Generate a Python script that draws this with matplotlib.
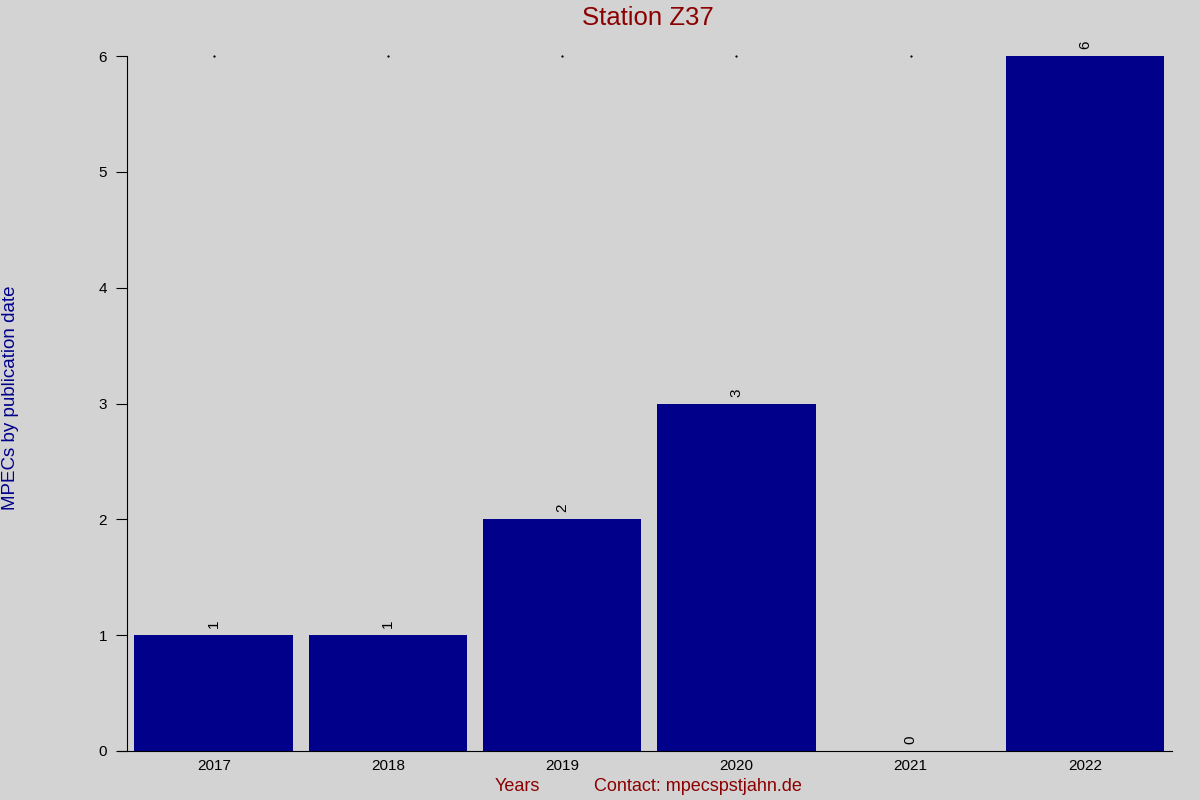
import matplotlib
matplotlib.use("Agg")
import matplotlib.pyplot as plt

years = ["2017", "2018", "2019", "2020", "2021", "2022"]
counts = [1, 1, 2, 3, 0, 6]
ymax = 6

plt.rcParams['font.family'] = ['Liberation Sans', 'DejaVu Sans']

fig = plt.figure(figsize=(12, 8), dpi=100, facecolor='#d3d3d3')
ax = fig.add_axes([0.1055, 0.06125, 0.8712, 0.86875])
ax.set_facecolor('#d3d3d3')

x = list(range(len(years)))
# tiny dots at top of each category, only where no bar reaches the top
dot_x = [xi for xi, c in zip(x, counts) if c < ymax]
ax.plot(dot_x, [ymax] * len(dot_x), linestyle='none', marker='s', markersize=0.6,
        color='black', clip_on=False, zorder=1)
bars = ax.bar(x, counts, width=0.91, color='#00008b', zorder=2)
for xi, c in zip(x, counts):
    ax.text(xi, c + 0.06, str(c), rotation=90, ha='center', va='bottom', fontsize=11, zorder=3)

ax.set_xlim(-0.5, len(years) - 0.5)
ax.set_ylim(0, ymax)
ax.set_xticks(x)
ax.set_xticklabels(years, fontsize=11)
ax.tick_params(axis='x', length=0, pad=6)
ax.tick_params(axis='y', length=8, labelsize=11, pad=6)
ax.spines['top'].set_visible(False)
ax.spines['right'].set_visible(False)
ax.spines['bottom'].set_bounds(-0.55, len(years) - 0.5)

fig.text(0.54, 0.978, "Station Z37", color='#8b0000', fontsize=18.5, ha='center', va='center')
fig.text(0.431, 0.017, "Years", color='#8b0000', fontsize=13, ha='center', va='center')
fig.text(0.582, 0.017, "Contact: mpecspstjahn.de", color='#8b0000', fontsize=13, ha='center', va='center')
fig.text(0.009, 0.503, "MPECs by publication date", color='#00008b', fontsize=13.5, rotation=90, ha='center', va='center')

fig.savefig("out.png", dpi=100, facecolor=fig.get_facecolor())
